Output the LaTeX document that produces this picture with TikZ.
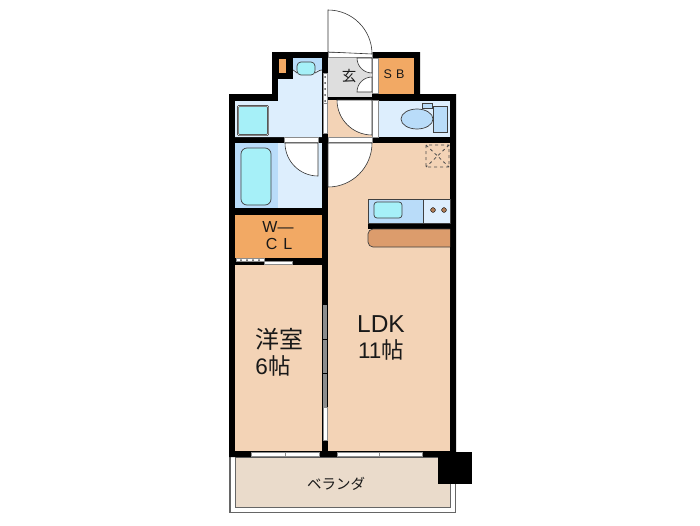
\documentclass[tikz,border=0pt]{standalone}
\usepackage{fontspec}
\setmainfont{Liberation Sans}
\newfontfamily\cjkfont{Noto Sans CJK JP}
\usepackage{xcolor}
\definecolor{floorcolor}{HTML}{F3D3B6}
\definecolor{wetcolor}{HTML}{DDEEFD}
\definecolor{panelcolor}{HTML}{B9DCF9}
\definecolor{watercolor}{HTML}{A6F0F8}
\definecolor{closetcolor}{HTML}{F2A964}
\definecolor{hallcolor}{HTML}{DEDEDE}
\definecolor{countercolor}{HTML}{DC9C6C}
\definecolor{balconycolor}{HTML}{EADBCB}
\tikzset{
  room/.style={fill=#1},
  fixture/.style={fill=#1,draw=black!75,line width=0.7pt},
  doorleaf/.style={fill=white,draw=black!80,line width=0.6pt},
  sash/.style={fill=white,draw=black!45,line width=0.6pt},
  label/.style={text=black!90,inner sep=0pt}
}
\begin{document}
\begin{tikzpicture}[x=1pt,y=-1pt]
    \useasboundingbox (0,0) rectangle (700,525);
    % balcony
    \fill [black!60] (229,452) rectangle (456,513);
    \fill [white] (230.5,455) rectangle (454.5,511.5);
    \draw [fill=balconycolor,draw=black!60,line width=0.7pt] (235,457) rectangle (450,507);
    % walls
    \fill [black] (229,94) -- (272,94) -- (272,52) -- (420,52) -- (420,94) -- (456,94)
      -- (456,457) -- (229,457) -- cycle;
    \fill [black] (438,452) rectangle (472,484);
    % rooms
    \fill [room=wetcolor] (293,58) -- (322,58) -- (322,137) -- (235,137) -- (235,101)
      -- (278,101) -- (278,79) -- (293,79) -- cycle;
    \fill [room=wetcolor] (278,143) rectangle (322,208);
    \fill [room=panelcolor] (235,143) rectangle (278,208);
    \fill [room=closetcolor] (235,215) rectangle (322,258);
    \fill [room=floorcolor] (235,265) rectangle (322,451);
    \fill [room=floorcolor] (328,143) rectangle (450,451);
    \fill [room=hallcolor] (328,58) rectangle (372,97);
    \fill [room=floorcolor] (328,100) rectangle (372,137);
    \fill [room=closetcolor] (378,58) rectangle (414,94);
    \fill [room=wetcolor] (378,101) rectangle (450,137);
    \fill [closetcolor] (279,59) rectangle (286,73);
    % entrance door
    \draw [sash] (328,52.5) rectangle (372,57.5);
    \draw [doorleaf] (328,52) -- (328,10) arc (90:0:44pt) -- cycle;
    % closet doors
    \draw [sash] (372,58) rectangle (378,93);
    \draw [doorleaf] (372,58) -- (357,58) arc (180:270:15pt) -- cycle;
    \draw [doorleaf] (372,92) -- (357,92) arc (180:90:15pt) -- cycle;
    % toilet door
    \draw [sash] (372,100) rectangle (378,137);
    \draw [doorleaf] (372,100) -- (337,100) arc (180:270:35pt) -- cycle;
    % bath door
    \draw [sash] (284,137) rectangle (318,142.5);
    \draw [doorleaf] (318,143) -- (285,143) arc (180:270:33pt) -- cycle;
    % ldk door
    \draw [sash] (328,137) rectangle (372,142.5);
    \draw [doorleaf] (328,143) -- (372,143) arc (0:-90:44pt) -- cycle;
    % wash room
    \fill [room=panelcolor] (293,58) rectangle (322,70);
    \draw [black!75,line width=0.7pt] (293,70) .. controls (296,70) and (295,73) .. (297,73)
      (322,70) .. controls (318,70) and (317,73) .. (315,73);
    \draw [fixture=watercolor,rounded corners=4pt] (297,62) rectangle (315,75);
    \draw [fixture=watercolor,rounded corners=1pt,double=white,double distance=0.5pt] (238,106) rectangle (268,135);
    % toilet
    \draw [fixture=panelcolor] (422,103) rectangle (432,108);
    \draw [fixture=panelcolor] (433,106) rectangle (447,132);
    \draw [fixture=panelcolor] (417,119) ellipse [x radius=16pt,y radius=10pt];
    % bath tub
    \draw [fixture=watercolor,rounded corners=6pt] (241,148) rectangle (271,205);
    % dashed duct
    \draw [black!70,dashed,line width=0.8pt] (426,145) rectangle (449,167)
      (426,145) -- (449,167) (449,145) -- (426,167);
    % kitchen
    \fill [black] (368,223) rectangle (450,229);
    \draw [fixture=panelcolor] (368,199) rectangle (450,223);
    \draw [fixture=wetcolor] (423,199) rectangle (450,223);
    \draw [fixture=watercolor,rounded corners=3pt] (374,202) rectangle (402,218);
    \foreach \burnerx in {433,444}
      \draw [fill=countercolor!80!black,draw=black] (\burnerx,210) circle (2.4pt);
    \draw [fixture=countercolor,rounded corners=5pt] (450,229) -- (368,229) -- (368,247) -- (450,247);
    % sliding doors
    \draw [sash] (236,258.5) rectangle (264,261.5);
    \draw [sash] (264,261.5) rectangle (292,264.5);
    \foreach \dotx in {241,247,...,259}
      \fill [black!70] (\dotx,260) circle (1pt);
    \fill [black] (322,58) rectangle (328,143);
    \draw [sash] (323,73) rectangle (327,103);
    \foreach \doty in {77,83,...,101}
      \fill [black!70] (325,\doty) circle (1pt);
    \draw [sash] (323,103) rectangle (327,133);
    \fill [black!45] (323,305) rectangle (327,407);
    \draw [black] (323,339) -- (327,339) (323,373) -- (327,373) (323,407) -- (327,407);
    \draw [sash] (323,407) rectangle (327,440);
    % windows
    \draw [sash] (251,452) rectangle (285,456);
    \draw [sash] (285,452.5) rectangle (319,456.5);
    \draw [sash] (337,452) rectangle (379,456);
    \draw [sash] (379,452.5) rectangle (422,456.5);
    % labels
    \node [label,font=\cjkfont\fontsize{14.5}{14.5}\selectfont] (hall) at (349,76) {玄};
    \node [label,font=\fontsize{12.5}{12.5}\selectfont] (sb) at (394,74) {S\hspace{4pt}B};
    \node [label,font=\fontsize{16}{16}\selectfont] (wcla) at (278,227) {W—};
    \node [label,font=\fontsize{16}{16}\selectfont] (wclb) at (279,244) {C\hspace{6pt}L};
    \node [label,font=\fontsize{24.5}{24.5}\selectfont] (ldk) at (381,324) {LDK};
    \node [label,font=\fontsize{22.5}{22.5}\selectfont] (ldksize) at (381,350) {11{\cjkfont 帖}};
    \node [label,font=\cjkfont\fontsize{24}{24}\selectfont] (bedroom) at (279,339) {洋室};
    \node [label,font=\fontsize{22.5}{22.5}\selectfont] (bedsize) at (273,366) {6{\cjkfont 帖}};
    \node [label,font=\cjkfont\fontsize{14.5}{14.5}\selectfont] (balcony) at (336,484) {ベランダ};
\end{tikzpicture}
\end{document}
